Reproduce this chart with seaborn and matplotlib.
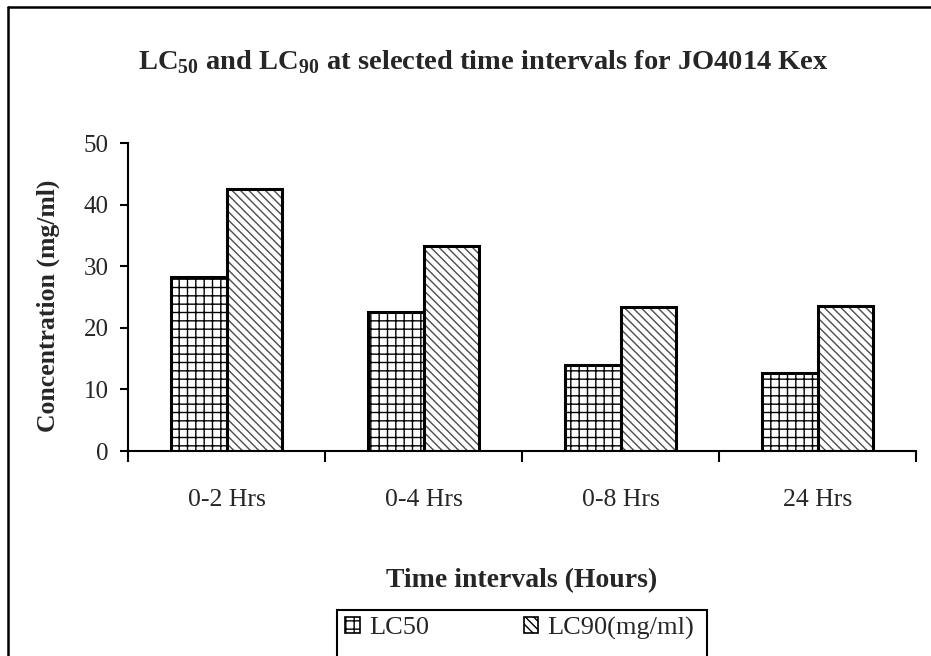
import matplotlib
matplotlib.use("Agg")
import matplotlib.pyplot as plt
import seaborn as sns
import pandas as pd
from matplotlib.lines import Line2D
from matplotlib.patches import Patch, Rectangle
from matplotlib.ticker import FixedLocator

categories = ["0-2 Hrs", "0-4 Hrs", "0-8 Hrs", "24 Hrs"]
lc50 = [28.3, 22.5, 14.0, 12.7]
lc90 = [42.6, 33.2, 23.4, 23.5]
series = ["LC50", "LC90(mg/ml)"]
yticks = [0, 10, 20, 30, 40, 50]

df = pd.DataFrame({
    "Time": categories * 2,
    "Series": [series[0]] * len(categories) + [series[1]] * len(categories),
    "Value": lc50 + lc90,
})

sns.set_theme(style="white")
plt.rcParams['font.family'] = ['Liberation Serif', 'DejaVu Serif']
plt.rcParams['mathtext.fontset'] = 'custom'
plt.rcParams['mathtext.rm'] = 'Liberation Serif'
plt.rcParams['mathtext.bf'] = 'Liberation Serif:bold'
plt.rcParams['hatch.linewidth'] = 1.0

W, H = 931, 656
fig = plt.figure(figsize=(W / 100, H / 100), dpi=100)
ax = fig.add_axes([128 / W, (H - 451) / H, 788 / W, 308 / H])

sns.barplot(data=df, x="Time", y="Value", hue="Series", palette=["white", "white"],
            width=0.56, edgecolor="black", linewidth=2.2, saturation=1,
            ax=ax, legend=False)

hatches = ['++', '\\\\\\\\']
hcolors = [(0, 0, 0, 1), (0.3, 0.3, 0.3, 1)]
for cont, h, hc in zip(ax.containers, hatches, hcolors):
    for p in cont:
        p.set_hatch(h)
        p._hatch_color = hc

ax.set_ylim(0, 50)
ax.set_xlim(-0.5, len(categories) - 0.5)
ax.set_yticks(yticks)
ax.tick_params(axis='y', which='major', direction='out', length=6, width=1.5,
               color='black', labelsize=18, pad=8, left=True)
ax.xaxis.set_minor_locator(FixedLocator([i - 0.5 for i in range(len(categories) + 1)]))
ax.tick_params(axis='x', which='major', length=0, labelsize=18.5, pad=27)
ax.tick_params(axis='x', which='minor', direction='out', length=8, width=1.5,
               color='black', bottom=True)
for s in ['top', 'right']:
    ax.spines[s].set_visible(False)
for s in ['left', 'bottom']:
    ax.spines[s].set_color('black')
    ax.spines[s].set_linewidth(1.5)

ax.set_ylabel("Concentration (mg/ml)", fontsize=18.5, fontweight='bold')
ax.yaxis.set_label_coords((60 - 128) / 788, (451 - 306) / 308)
ax.set_xlabel("Time intervals (Hours)", fontsize=20, fontweight='bold')
ax.xaxis.set_label_coords(0.5, -(568 - 451) / 308)

fig.text(483 / W, 1 - 62 / H,
         r"LC$_{\mathbf{50}}$ and LC$_{\mathbf{90}}$ at selected time intervals for JO4014 Kex",
         ha='center', va='center', fontsize=20.5, fontweight='bold')

# chart border (left and top visible)
fig.add_artist(Line2D([8 / W, 8 / W], [0, 1 - 7 / H], transform=fig.transFigure,
                      color='black', lw=1.8))
fig.add_artist(Line2D([8 / W, 1], [1 - 7 / H, 1 - 7 / H], transform=fig.transFigure,
                      color='black', lw=1.8))

# legend box (cut off at bottom)
fig.add_artist(Rectangle((337 / W, -0.05), (707 - 337) / W, (1 - 610 / H) + 0.05,
                         transform=fig.transFigure, fill=False, edgecolor='black', lw=1.5))
handles = [Patch(facecolor='white', edgecolor='black', hatch=h, linewidth=1.2)
           for h in ['++', '\\\\\\\\']]
leg = fig.legend(handles, series, loc='center left', bbox_to_anchor=(345 / W, 1 - 628 / H),
                 ncol=2, frameon=False, fontsize=19, handlelength=0.55, handleheight=0.55,
                 handletextpad=0.35, columnspacing=3.6, borderpad=0, borderaxespad=0)

fig.savefig("out.png", dpi=100)
